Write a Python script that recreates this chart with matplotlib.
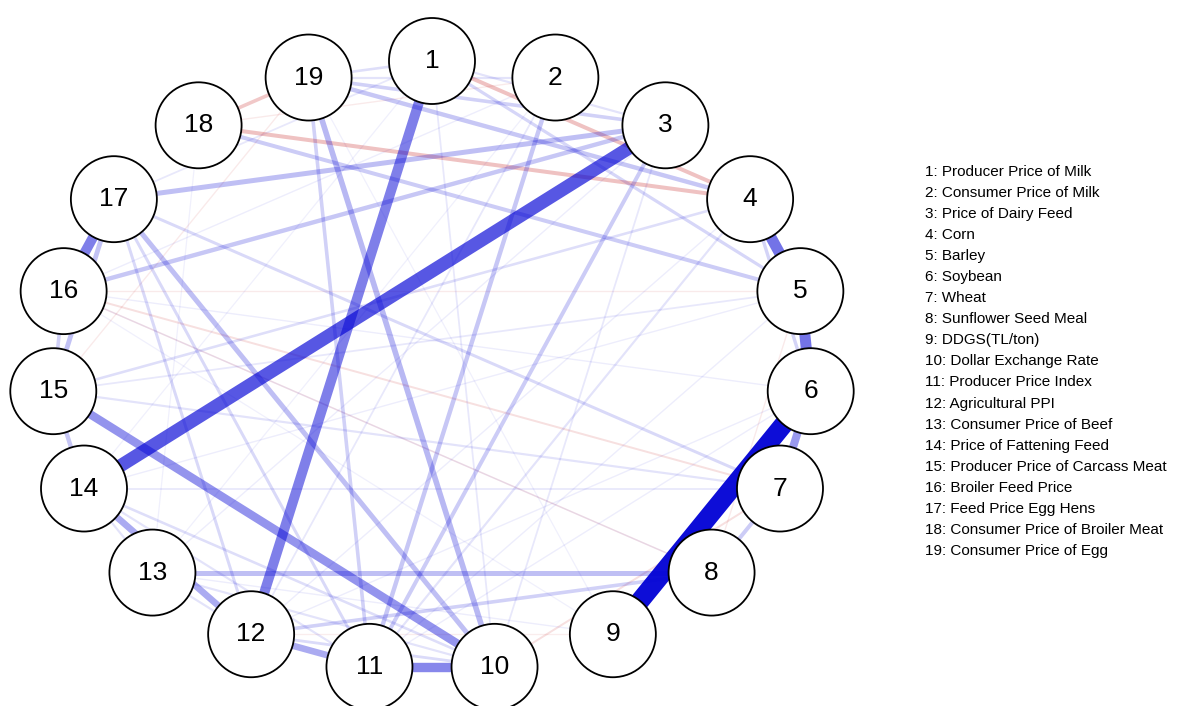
import matplotlib
matplotlib.use("Agg")
import matplotlib.pyplot as plt
from matplotlib.patches import Circle
import numpy as np

# variable names shown in the legend (node i+1)
labels = ["Producer Price of Milk", "Consumer Price of Milk", "Price of Dairy Feed", "Corn",
          "Barley", "Soybean", "Wheat", "Sunflower Seed Meal", "DDGS(TL/ton)",
          "Dollar Exchange Rate", "Producer Price Index", "Agricultural PPI",
          "Consumer Price of Beef", "Price of Fattening Feed", "Producer Price of Carcass Meat",
          "Broiler Feed Price", "Feed Price Egg Hens", "Consumer Price of Broiler Meat",
          "Consumer Price of Egg"]

# edges: node a, node b, partial correlation (sign -> colour)
edge_a = [6, 3, 1, 4, 5, 6, 10, 10, 16, 11, 12, 10, 10, 3, 8, 3, 15, 4, 5, 7,
          2, 3, 11, 3, 8, 4, 7, 12, 11, 14, 15, 12, 4, 1, 7, 13, 4, 2, 1, 3,
          9, 1, 2, 8, 5, 6, 5, 9, 7, 11, 10, 10, 10, 1, 2, 1,
          6, 5, 2, 3, 9, 4, 1, 6, 13,
          1, 4, 18, 7, 5, 5, 7, 8, 15, 9, 2]
edge_b = [9, 14, 12, 5, 6, 7, 11, 15, 17, 12, 14, 19, 17, 17, 13, 16, 17, 19, 18, 8,
          11, 11, 19, 19, 12, 6, 17, 17, 17, 15, 16, 13, 15, 5, 15, 14, 11, 12, 10, 10,
          13, 17, 16, 16, 15, 16, 14, 19, 14, 14, 14, 12, 13, 3, 19, 19,
          12, 11, 13, 13, 16, 12, 14, 11, 18,
          4, 18, 19, 16, 16, 8, 10, 16, 19, 12, 18]
edge_w = [0.95, 0.66, 0.50, 0.55, 0.55, 0.40, 0.47, 0.42, 0.50, 0.33, 0.33, 0.28, 0.25, 0.25,
          0.25, 0.22, 0.24, 0.22, 0.20, 0.20,
          0.22, 0.20, 0.18, 0.18, 0.18, 0.17, 0.15, 0.15, 0.15, 0.22, 0.18, 0.11, 0.13, 0.16,
          0.11, 0.11, 0.11, 0.09, 0.09, 0.09,
          0.07, 0.09, 0.07, 0.07, 0.09, 0.07, 0.07, 0.06, 0.09, 0.11, 0.13, 0.14, 0.11, 0.11,
          0.11, 0.13,
          0.07, 0.07, 0.06, 0.07, 0.06, 0.07, 0.06, 0.07, 0.06,
          -0.20, -0.20, -0.18, -0.10, -0.07, -0.07, -0.10, -0.08, -0.07, -0.06, -0.07]

n = len(labels)

# circle layout (ellipse in pixel space), node 1 on top, clockwise
cx, cy, rx, ry = 432.0, 366.0, 380.0, 305.0
ang = np.pi / 2 - np.arange(n) * 2 * np.pi / n
node_x = cx + rx * np.cos(ang)
node_y = cy - ry * np.sin(ang)

fig = plt.figure(figsize=(11.95, 7.06), dpi=100)
ax = fig.add_axes([0, 0, 1, 1])
ax.set_xlim(0, 1195)
ax.set_ylim(706, 0)
ax.axis("off")

# weaker edges first so strong ones sit on top
order = np.argsort(np.abs(edge_w))
for k in order:
    a, b, w = edge_a[k] - 1, edge_b[k] - 1, edge_w[k]
    col = "#0000D5" if w > 0 else "#C00000"
    width_px = max(1.3, 20 * abs(w))
    ax.plot([node_x[a], node_x[b]], [node_y[a], node_y[b]], color=col,
            alpha=min(1.0, abs(w) * (1.0 if w > 0 else 1.2)), lw=width_px * 0.72,
            solid_capstyle="butt", zorder=1)

for i in range(n):
    ax.add_patch(Circle((node_x[i], node_y[i]), 43, facecolor="white",
                        edgecolor="black", lw=1.3, zorder=3))
    ax.text(node_x[i], node_y[i], str(i + 1), ha="center", va="center",
            fontsize=19, family="Liberation Sans", zorder=4)

# legend of variable names
for i, lab in enumerate(labels):
    ax.text(925, 172 + i * 21.05, f"{i + 1}: {lab}", ha="left", va="center",
            fontsize=11, family="Liberation Sans")

fig.savefig("out.png", dpi=100)
